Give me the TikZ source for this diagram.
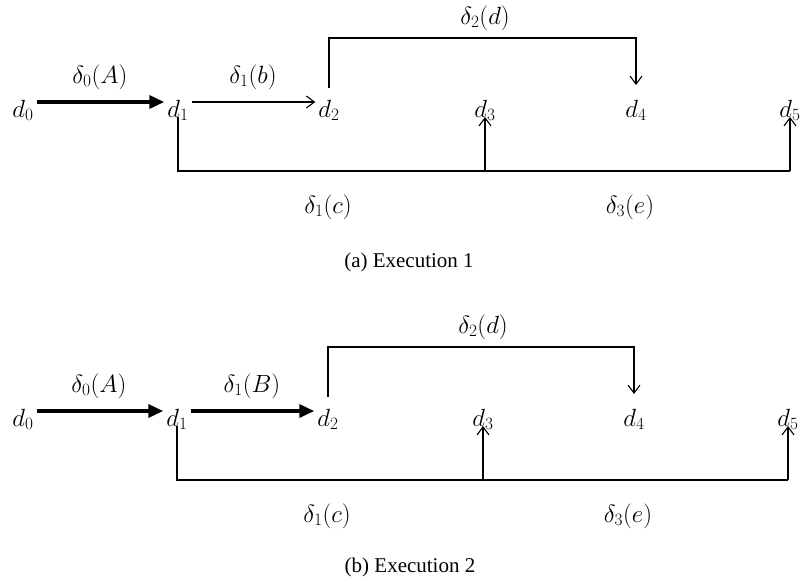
\documentclass[tikz,border=0pt]{standalone}
\usepackage{fontspec}
\setmainfont{Liberation Serif}
\usetikzlibrary{arrows.meta}
\begin{document}
\begin{tikzpicture}[x=1pt,y=-1pt,
  state/.style={inner sep=3pt,font=\fontsize{25}{29}\selectfont},
  lab/.style={inner sep=0pt,font=\fontsize{24.5}{28}\selectfont},
  caption/.style={inner sep=0pt,font=\fontsize{21}{25}\selectfont},
  heavy/.style={line width=3.6pt,-{Triangle[length=15pt,width=13pt]}},
  light/.style={line width=1.1pt,-{Straight Barb[length=8pt,width=12pt]}},
  plain/.style={line width=1.1pt}]
\useasboundingbox (0,0) rectangle (802,582);

% ---- Execution 1 ----
\node[state,anchor=base] (a0) at (23,117) {$d_0$};
\node[state,anchor=base] (a1) at (178,117) {$d_1$};
\node[state,anchor=base] (a2) at (329,117) {$d_2$};
\node[state,anchor=base] (a3) at (485,117) {$d_3$};
\node[state,anchor=base] (a4) at (636,117) {$d_4$};
\node[state,anchor=base] (a5) at (790,117) {$d_5$};
\coordinate (atop) at (0,38);
\coordinate (abot) at (0,171);

\draw[heavy] ([yshift=15pt]a0.base east) -- ([yshift=15pt]a1.base west);
\draw[light] ([yshift=15pt]a1.base east) -- ([yshift=15pt]a2.base west);
\draw[light] ([yshift=29pt]a2.base) |- (atop -| a4.base) -- ([yshift=32pt]a4.base);
\draw[plain] (a1.base) |- (abot -| a5.base);
\draw[light] (abot -| a3.base) -- (a3.base);
\draw[light] (abot -| a5.base) -- (a5.base);

\node[lab] (la0) at (100,77) {$\delta_0(A)$};
\node[lab] (la1) at (253,77) {$\delta_1(b)$};
\node[lab] (la2) at (485,18) {$\delta_2(d)$};
\node[lab] (la3) at (328,207) {$\delta_1(c)$};
\node[lab] (la4) at (630,207) {$\delta_3(e)$};
\node[caption] (capa) at (409,262) {(a) Execution 1};

% ---- Execution 2 ----
\node[state,anchor=base] (b0) at (23,426) {$d_0$};
\node[state,anchor=base] (b1) at (177,426) {$d_1$};
\node[state,anchor=base] (b2) at (328,426) {$d_2$};
\node[state,anchor=base] (b3) at (483,426) {$d_3$};
\node[state,anchor=base] (b4) at (634,426) {$d_4$};
\node[state,anchor=base] (b5) at (788,426) {$d_5$};
\coordinate (btop) at (0,347);
\coordinate (bbot) at (0,480);

\draw[heavy] ([yshift=15pt]b0.base east) -- ([yshift=15pt]b1.base west);
\draw[heavy] ([yshift=15pt]b1.base east) -- ([yshift=15pt]b2.base west);
\draw[light] ([yshift=29pt]b2.base) |- (btop -| b4.base) -- ([yshift=32pt]b4.base);
\draw[plain] (b1.base) |- (bbot -| b5.base);
\draw[light] (bbot -| b3.base) -- (b3.base);
\draw[light] (bbot -| b5.base) -- (b5.base);

\node[lab] (lb0) at (99,386) {$\delta_0(A)$};
\node[lab] (lb1) at (252,386) {$\delta_1(B)$};
\node[lab] (lb2) at (483,327) {$\delta_2(d)$};
\node[lab] (lb3) at (327,516) {$\delta_1(c)$};
\node[lab] (lb4) at (628,516) {$\delta_3(e)$};
\node[caption] (capb) at (410,567) {(b) Execution 2};
\end{tikzpicture}
\end{document}
